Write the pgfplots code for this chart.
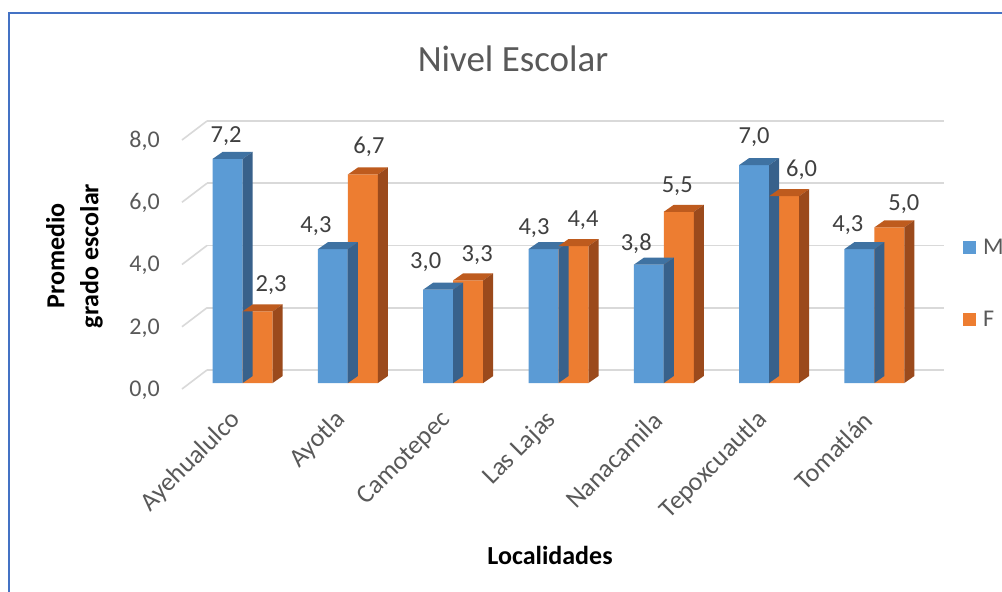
\documentclass[border=0pt]{standalone}
\usepackage{fontspec}
\setmainfont{Carlito}
\usepackage{pgfplots}
\usepackage{pgfplotstable}
\pgfplotsset{compat=1.18}

\definecolor{mblue}{HTML}{5B9BD5}
\definecolor{mbluetop}{HTML}{3F72A2}
\definecolor{mblueside}{HTML}{38618B}
\definecolor{forange}{HTML}{ED7D31}
\definecolor{forangetop}{HTML}{BE5B1E}
\definecolor{forangeside}{HTML}{9B4A1C}
\definecolor{gridc}{HTML}{D9D9D9}
\definecolor{tickgray}{HTML}{595959}
\definecolor{labelgray}{HTML}{404040}
\definecolor{frameblue}{HTML}{4472C4}

% average schooling per locality; mdx/mdy, fdx/fdy place the value labels
\pgfplotstableread{
idx M   F   mdx   mdy  fdx  fdy
0   7.2 2.3 -1.5  23.5 13.5 27.5
1   4.3 6.7 -17   24   6    27.7
2   3.0 3.3 -12.5 28   9    26
3   4.3 4.4 -9.5  22   9.5  27
4   3.8 5.5 -12.5 21   -1.5 26
5   7.0 6.0 0     29   17.5 27
6   4.3 5.0 -11.5 25   14.5 24
}\datatable

% top and side faces of a 3D bar; the mark sits on the top front edge
% #1 mark name, #2 left edge of the front face (pt), #3 top colour, #4 side colour
\newcommand\declarebarfaces[4]{%
  \pgfdeclareplotmark{#1}{%
    \pgfmathsetlengthmacro\facedepth{\barh*31.125pt}%
    \pgfsetfillcolor{#3}%
    \pgfpathmoveto{\pgfpoint{#2pt}{0pt}}%
    \pgfpathlineto{\pgfpoint{#2pt+30pt}{0pt}}%
    \pgfpathlineto{\pgfpoint{#2pt+40pt}{7pt}}%
    \pgfpathlineto{\pgfpoint{#2pt+10pt}{7pt}}%
    \pgfpathclose
    \pgfusepath{fill}%
    \pgfsetfillcolor{#4}%
    \pgfpathmoveto{\pgfpoint{#2pt+30pt}{0pt}}%
    \pgfpathlineto{\pgfpoint{#2pt+40pt}{7pt}}%
    \pgfpathlineto{\pgfpoint{#2pt+40pt}{7pt-\facedepth}}%
    \pgfpathlineto{\pgfpoint{#2pt+30pt}{-\facedepth}}%
    \pgfpathclose
    \pgfusepath{fill}%
  }}
\declarebarfaces{facesM}{-30}{mbluetop}{mblueside}
\declarebarfaces{facesF}{0}{forangetop}{forangeside}

\begin{document}
\begin{tikzpicture}
\useasboundingbox (0,0) rectangle (1002pt,592pt);
\fill[white] (0,0) rectangle (1002pt,592pt);
\draw[frameblue, line width=1.6pt] (9pt,-5pt) -- (9pt,579pt) -- (1010pt,579pt);
\begin{axis}[
  at={(190pt,209pt)}, anchor=south west,
  scale only axis, width=737pt, height=249pt,
  xmin=-0.5, xmax=6.5, ymin=0, ymax=8,
  clip=false,
  axis line style={draw=none},
  major tick length=0pt,
  ytick={0,2,4,6,8},
  xtick={0,...,6},
  xticklabels={Ayehualulco,Ayotla,Camotepec,Las Lajas,Nanacamila,Tepoxcuautla,Tomatlán},
  /pgf/number format/assume math mode=true,
  y tick label style={/pgf/number format/fixed, /pgf/number format/fixed zerofill,
    /pgf/number format/precision=1, /pgf/number format/use comma,
    font=\fontsize{24}{29}\selectfont, text=tickgray, inner sep=0pt,
    anchor=east, xshift=-30pt, yshift=-7pt},
  x tick label style={font=\fontsize{26}{31}\selectfont, text=tickgray, inner sep=0pt,
    xshift=-6pt, yshift=-33pt, rotate=45, anchor=east},
  title={Nivel Escolar},
  every axis title/.style={at={(axis description cs:0.4383,1.253)}, anchor=base,
    font=\fontsize{37}{44}\selectfont, text=tickgray},
  xlabel={Localidades},
  every axis x label/.style={at={(axis description cs:0.4885,-0.727)}, anchor=base,
    font=\bfseries\fontsize{26}{31}\selectfont, text=black},
  ylabel={Promedio\\grado escolar},
  every axis y label/.style={at={(axis description cs:0,0.5)}, xshift=-115.5pt, yshift=2.5pt,
    rotate=90, anchor=center, align=center,
    font=\bfseries\fontsize{26}{34}\selectfont, text=black},
  legend style={draw=none, fill=none, at={(axis description cs:1.0488,0.578)},
    anchor=north west, inner sep=0pt, row sep=55pt, column sep=7pt,
    font=\fontsize{24}{29}\selectfont, text=tickgray, nodes={inner sep=0pt}},
  legend cell align=left,
]
% back wall gridlines and the left edge of the floor/wall depth
\pgfplotsinvokeforeach{0,2,4,6,8}{
  \draw[gridc, line width=1.6pt] ([shift={(17pt,13pt)}]axis cs:-0.5,#1) -- ([shift={(17pt,13pt)}]axis cs:6.5,#1);
  \draw[gridc, line width=1.6pt] ([shift={(-8pt,-6pt)}]axis cs:-0.5,#1) -- ([shift={(17pt,13pt)}]axis cs:-0.5,#1);
}
% M
\addplot[ybar, bar width=30pt, bar shift=-15pt, fill=mblue, draw=none,
  legend image code/.code={\fill[mblue] (0pt,-6.5pt) rectangle (13pt,6.5pt);},
  visualization depends on={\thisrow{mdx}\as\ldx},
  visualization depends on={\thisrow{mdy}\as\ldy},
  nodes near coords={\pgfmathprintnumber[fixed,fixed zerofill,precision=1,use comma]{\pgfplotspointmeta}},
  every node near coord/.append style={font=\fontsize{24.5}{29}\selectfont, text=labelgray,
    inner sep=0pt, anchor=south, xshift=\ldx pt-15pt, yshift=\ldy pt-10.5pt}]
  table[x=idx, y=M] {\datatable};
\addlegendentry{M}
\addplot[only marks, mark=facesM, forget plot,
  visualization depends on={\thisrow{M}\as\barh}]
  table[x=idx, y=M] {\datatable};
% F
\addplot[ybar, bar width=30pt, bar shift=15pt, fill=forange, draw=none,
  legend image code/.code={\fill[forange] (0pt,-6.5pt) rectangle (13pt,6.5pt);},
  visualization depends on={\thisrow{fdx}\as\ldx},
  visualization depends on={\thisrow{fdy}\as\ldy},
  nodes near coords={\pgfmathprintnumber[fixed,fixed zerofill,precision=1,use comma]{\pgfplotspointmeta}},
  every node near coord/.append style={font=\fontsize{24.5}{29}\selectfont, text=labelgray,
    inner sep=0pt, anchor=south, xshift=\ldx pt+15pt, yshift=\ldy pt-10.5pt}]
  table[x=idx, y=F] {\datatable};
\addlegendentry{F}
\addplot[only marks, mark=facesF, forget plot,
  visualization depends on={\thisrow{F}\as\barh}]
  table[x=idx, y=F] {\datatable};
\end{axis}
\end{tikzpicture}
\end{document}
